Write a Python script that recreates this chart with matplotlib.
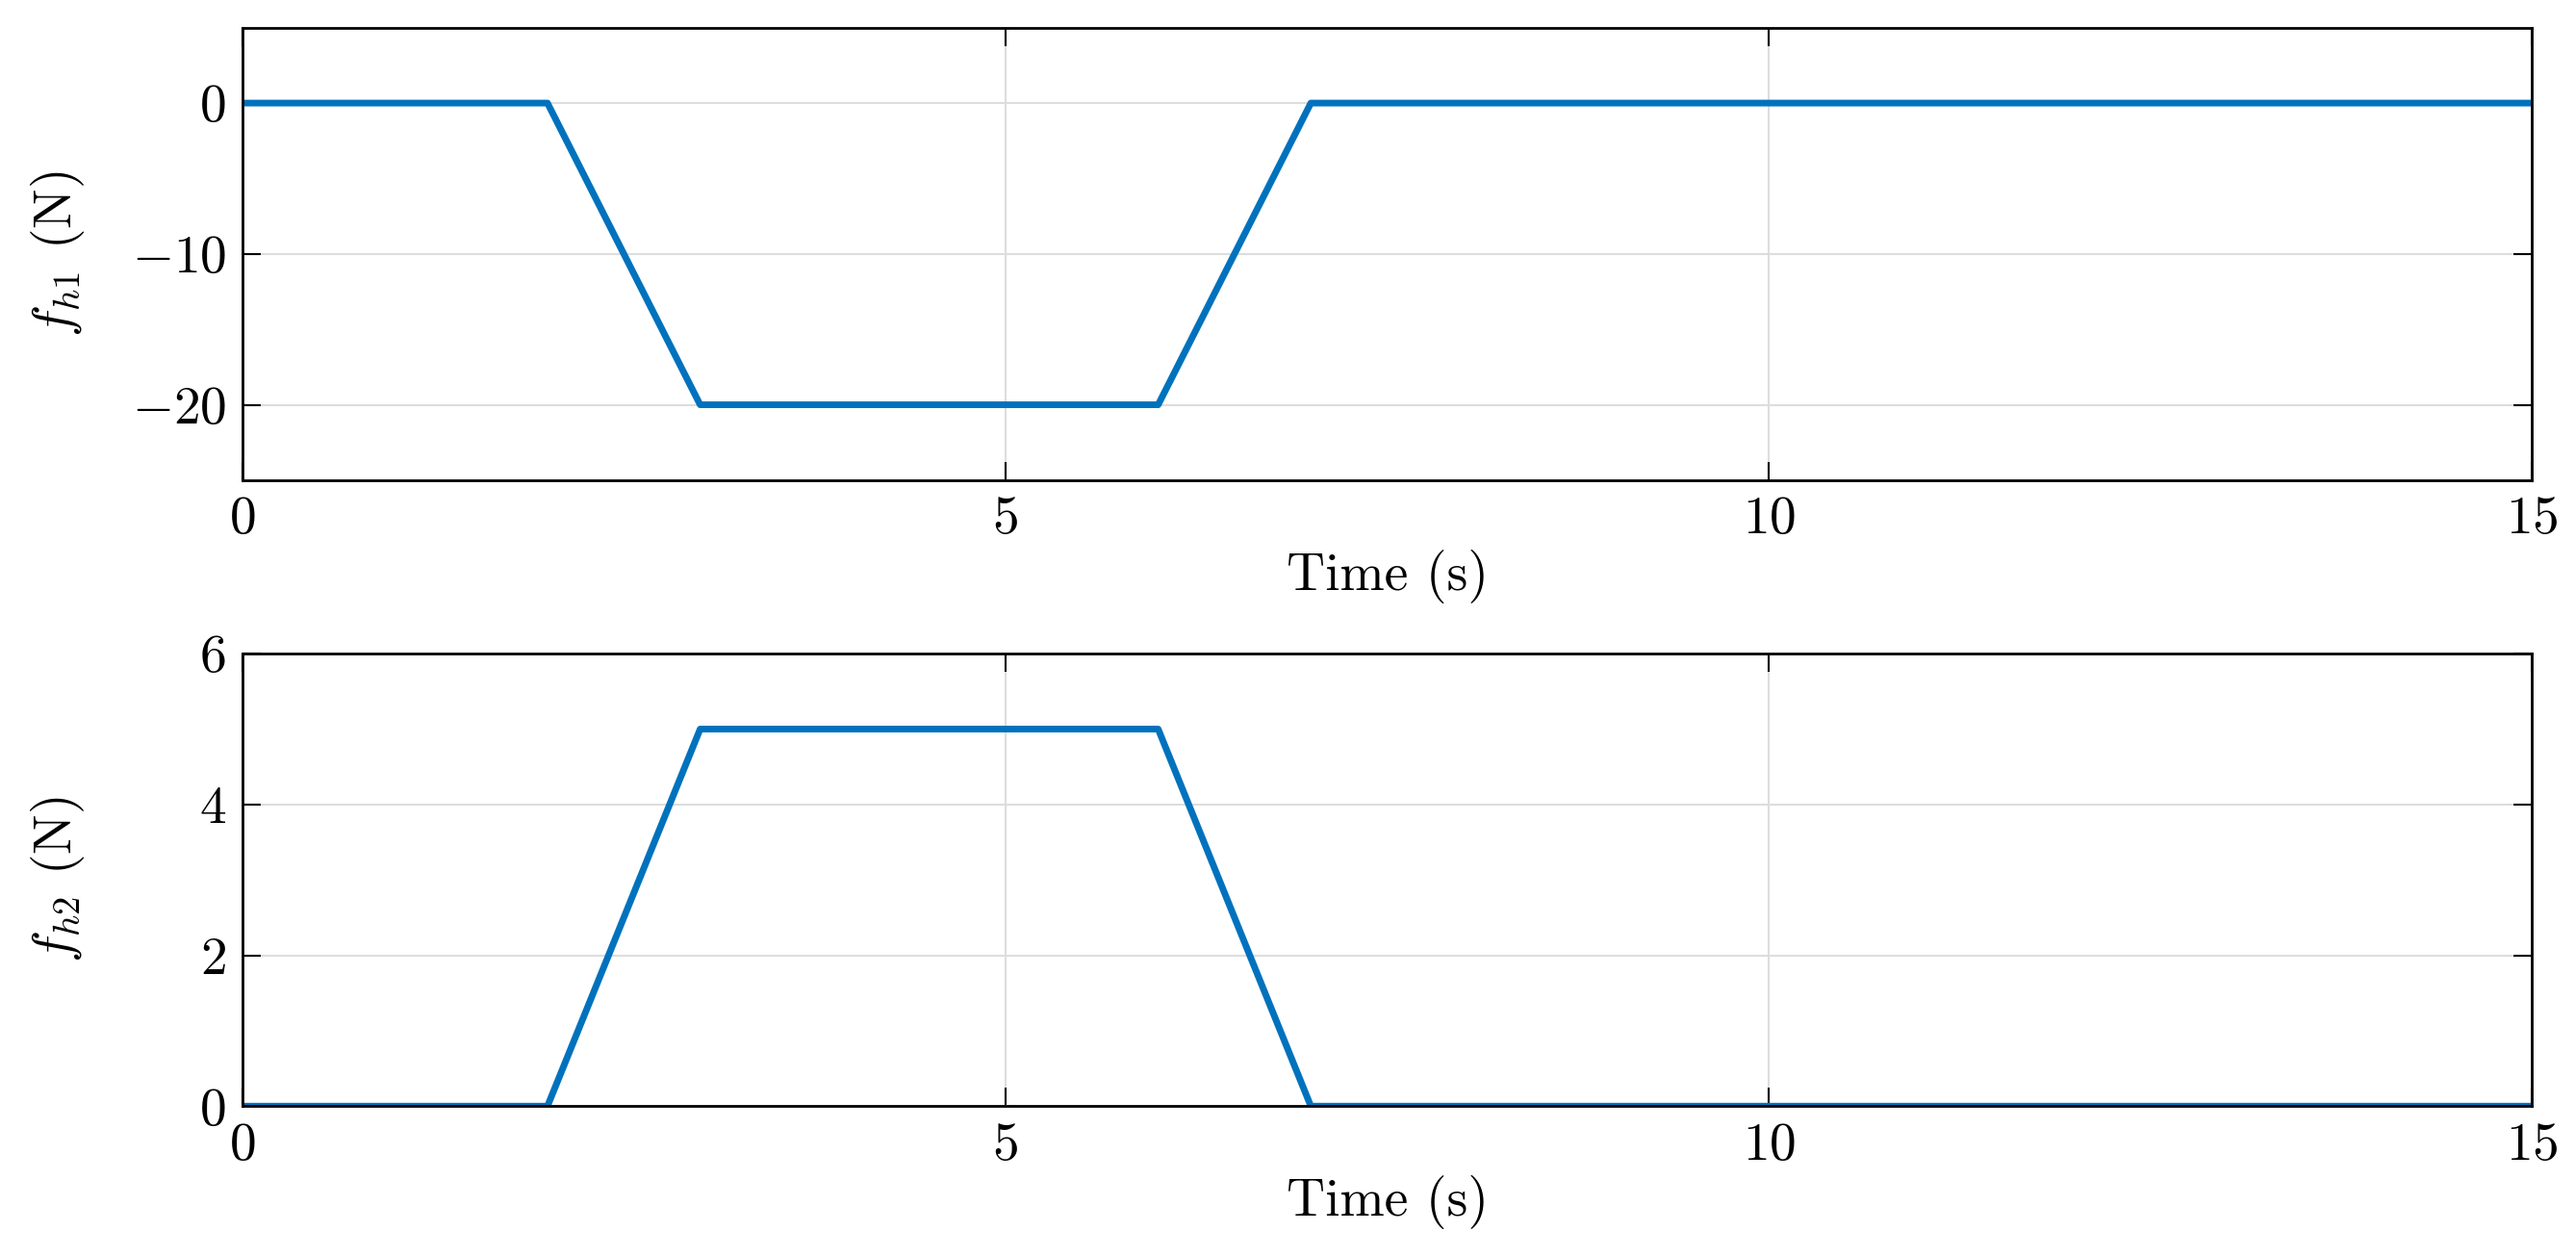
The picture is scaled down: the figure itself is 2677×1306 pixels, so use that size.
import matplotlib
matplotlib.use("Agg")
import matplotlib.pyplot as plt

plt.rcParams["font.family"] = ["cmr10"]
plt.rcParams["mathtext.fontset"] = "cm"
plt.rcParams["axes.formatter.use_mathtext"] = True

# trapezoidal force profiles (corner points)
t = [0, 2, 3, 6, 7, 15]
fh1 = [0, 0, -20, -20, 0, 0]
fh2 = [0, 0, 5, 5, 0, 0]

fig = plt.figure(figsize=(26.77, 13.06), dpi=100)
ax1 = fig.add_axes([0.094, 0.618, 0.889, 0.360])
ax2 = fig.add_axes([0.094, 0.120, 0.889, 0.360])

for ax, y, lab, ylim, yt in [
    (ax1, fh1, r"$f_{h1}$ (N)", (-25, 5), [-20, -10, 0]),
    (ax2, fh2, r"$f_{h2}$ (N)", (0, 6), [0, 2, 4, 6]),
]:
    ax.plot(t, y, color="#0072BD", lw=5)
    ax.set_xlim(0, 15)
    ax.set_ylim(*ylim)
    ax.set_xticks([0, 5, 10, 15])
    ax.set_yticks(yt)
    ax.grid(True, color="#dddddd", lw=1.5)
    ax.tick_params(direction="in", top=True, right=True, labelsize=40,
                   length=14, width=1.5, pad=12)
    for s in ax.spines.values():
        s.set_linewidth(2)
    ax.set_xlabel("Time (s)", fontsize=40, labelpad=4)
    ax.set_ylabel(lab, fontsize=40)
    ax.yaxis.set_label_coords(-0.068, 0.5)

fig.savefig("out.png", dpi=100)
